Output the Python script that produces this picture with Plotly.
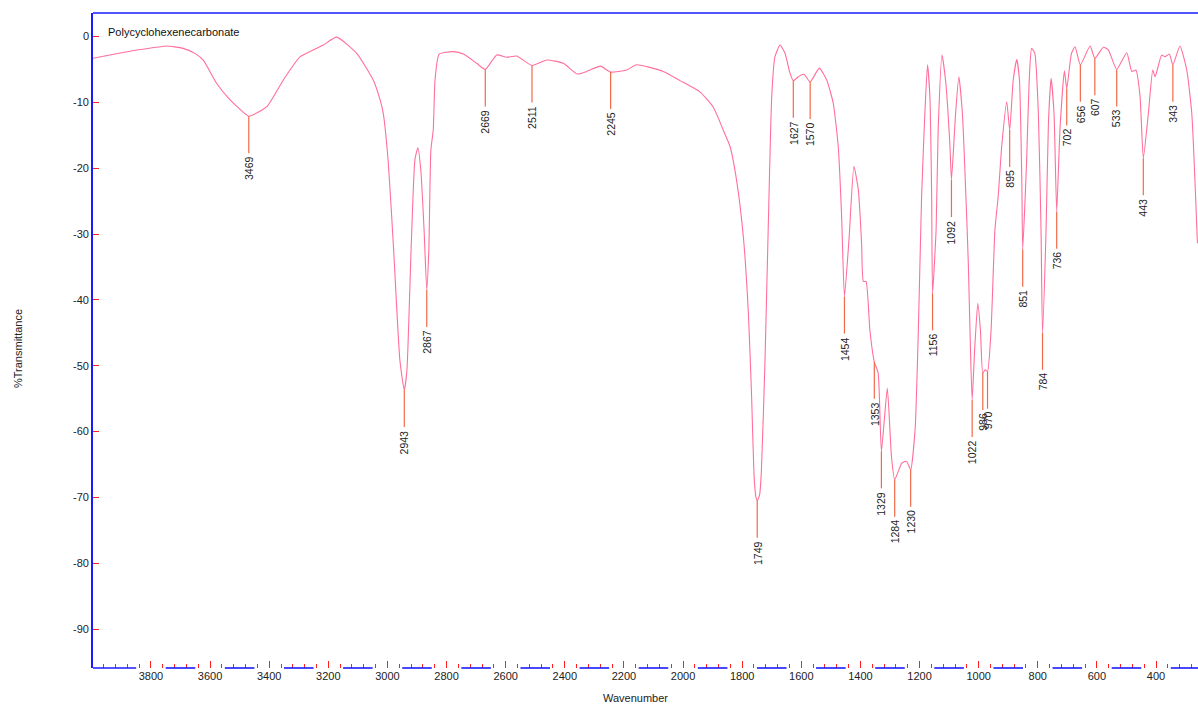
import plotly.graph_objects as go

# FT-IR spectrum of polycyclohexene carbonate
wavenumber = [
    3996, 3939, 3848, 3800, 3747, 3691, 3650, 3623, 3578, 3533, 3500, 3469,
    3409, 3352, 3296, 3217, 3172, 3104, 3048, 3025, 3014, 2997, 2979, 2958,
    2943, 2934, 2920, 2907, 2897, 2887, 2876, 2867, 2860, 2853, 2845, 2839,
    2825, 2777, 2743, 2698, 2669, 2630, 2597, 2563, 2511, 2461, 2405, 2358,
    2326, 2279, 2245, 2191, 2157, 2067, 2010, 1943, 1898, 1864, 1841, 1819,
    1796, 1779, 1768, 1760, 1754, 1749, 1741, 1735, 1723, 1712, 1700, 1689,
    1672, 1655,
    1638, 1627, 1610, 1591, 1570, 1539, 1514, 1492, 1475, 1464, 1454, 1438,
    1422, 1407, 1396, 1390, 1381, 1368, 1353, 1340, 1329, 1309, 1295, 1284,
    1260, 1244, 1230, 1215, 1204, 1193, 1182, 1173, 1165, 1159, 1156, 1144,
    1137, 1124, 1111, 1097, 1092, 1078, 1067, 1055, 1041, 1035, 1028, 1022,
    1013, 1003, 994, 986, 978, 970, 958, 945, 934, 922, 905, 895,
    883, 871, 862, 854, 851, 838, 829, 821, 810, 798, 789, 784,
    772, 764, 755, 745, 736, 725, 710, 702, 686, 674, 656, 623,
    607, 578, 561, 533, 499, 482, 468, 454, 443, 426, 411, 403,
    381, 370, 355, 343, 319, 296, 279, 260,
]
transmittance = [
    -3.3, -2.8, -2.05, -1.75, -1.44, -1.8, -2.6, -3.6, -7.1, -9.6, -11.0, -12.1,
    -10.7, -6.6, -3.1, -1.3, -0.1, -2.55, -6.6, -9.6, -11.7, -19.2, -32.4, -49.1,
    -53.7, -50.6, -32.4, -18.7, -16.9, -20.3, -29.4, -38.5, -32.4, -17.2, -14.2, -6.6,
    -2.66, -2.3, -2.66, -4.07, -5.0, -2.8, -3.16, -2.96, -4.4, -3.57, -4.07, -5.7,
    -5.3, -4.5, -5.4, -5.1, -4.3, -5.3, -6.7, -8.4, -10.7, -14.2, -16.7, -21.8,
    -30.4, -42.0, -54.7, -66.5, -69.8, -70.5, -69.6, -66.0, -49.6, -29.4, -9.1, -3.07,
    -1.3, -2.55,
    -5.6, -6.7, -6.1, -5.74, -6.9, -4.8, -6.6, -10.1, -16.7, -26.8, -39.5, -30.4,
    -19.7, -23.3, -31.4, -37.2, -37.2, -44.6, -49.4, -51.1, -63.0, -53.4, -63.8, -67.3,
    -64.8, -64.5, -65.8, -59.7, -44.6, -24.3, -11.7, -4.3, -9.1, -24.3, -39.0, -29.4,
    -14.2, -2.8, -7.1, -16.7, -21.8, -11.7, -6.1, -11.7, -26.8, -34.4, -47.0, -55.2,
    -47.1, -40.5, -44.6, -51.1, -50.6, -50.9, -44.6, -29.4, -24.3, -16.7, -9.9, -14.2,
    -6.6, -3.5, -6.6, -21.8, -32.4, -19.2, -6.6, -1.8, -2.55, -11.7, -29.4, -45.0,
    -29.4, -13.2, -6.35, -11.7, -26.6, -14.2, -5.2, -7.9, -2.55, -1.55, -4.3, -1.44,
    -3.3, -1.64, -2.05, -5.0, -2.46, -5.3, -5.1, -9.1, -18.5, -11.7, -5.1, -6.1,
    -2.8, -3.07, -2.66, -4.3, -1.44, -5.1, -11.7, -31.4,
]

# labelled absorption bands
peak_labels = [
    3469, 2943, 2867, 2669, 2511, 2245, 1749, 1627, 1570, 1454, 1353, 1329,
    1284, 1230, 1156, 1092, 1022, 986, 970, 895, 851, 784, 736, 702,
    656, 607, 533, 443, 343,
]

x_major_ticks = list(range(3800, 399, -200))
y_ticks = list(range(0, -91, -10))

SPECTRUM = "#ff6f9a"
PEAK_LINE = "#f06a48"
BLUE = "#1a1aff"
RED = "#ff2020"
FONT = "Liberation Sans, Arial, sans-serif"

fig = go.Figure()
fig.add_trace(go.Scatter(
    x=wavenumber, y=transmittance, mode="lines",
    line=dict(color=SPECTRUM, width=1.1, shape="spline", smoothing=0.5),
    hoverinfo="x+y", showlegend=False,
))

lookup = dict(zip(wavenumber, transmittance))
shapes = []
annotations = []
for wn in peak_labels:
    t = lookup[wn]
    shapes.append(dict(
        type="line", xref="x", yref="y", ysizemode="pixel", yanchor=t,
        x0=wn, x1=wn, y0=0, y1=-37, line=dict(color=PEAK_LINE, width=1.2),
    ))
    annotations.append(dict(
        x=wn, y=t, xref="x", yref="y", text=str(wn), showarrow=False,
        textangle=-90, yanchor="top", xanchor="center", yshift=-38,
        font=dict(family=FONT, size=10.5, color="#222222"),
    ))

# dashed-looking bottom axis: blue runs centred between the labelled ticks
for c in range(3900, 199, -200):
    left = 3996 if c == 3900 else c + 50
    right = max(c - 50, 258)
    shapes.append(dict(
        type="line", xref="x", yref="paper", x0=left, x1=right, y0=0, y1=0,
        line=dict(color=BLUE, width=1.6),
    ))
# top frame line
shapes.append(dict(
    type="line", xref="paper", yref="paper", x0=0, x1=1, y0=1, y1=1,
    line=dict(color=BLUE, width=1.6),
))

annotations += [
    dict(text="Polycyclohexenecarbonate", xref="paper", yref="paper",
         x=0.0118, y=0.971, xanchor="left", yanchor="middle", showarrow=False,
         font=dict(family=FONT, size=11, color="#111111")),
    dict(text="%Transmittance", xref="paper", yref="paper",
         x=-0.0679, y=0.4885, xanchor="center", yanchor="middle", showarrow=False,
         textangle=-90, font=dict(family=FONT, size=11, color="#222222")),
    dict(text="Wavenumber", xref="paper", yref="paper",
         x=0.4905, y=-0.0458, xanchor="center", yanchor="middle", showarrow=False,
         font=dict(family=FONT, size=11, color="#222222")),
]

fig.update_layout(
    width=1198, height=706,
    margin=dict(l=93, r=0, t=13, b=38),
    paper_bgcolor="white", plot_bgcolor="white",
    shapes=shapes, annotations=annotations,
    font=dict(family=FONT, size=11, color="#222222"),
    xaxis=dict(
        range=[3996, 258], showgrid=False, zeroline=False, showline=False,
        tickmode="array", tickvals=x_major_ticks,
        ticktext=[str(v) for v in x_major_ticks],
        ticks="inside", ticklen=7, tickwidth=1.3, tickcolor=RED,
        tickfont=dict(family=FONT, size=11, color="#222222"),
        minor=dict(dtick=40, tick0=0, ticks="inside", ticklen=4,
                   tickwidth=1.3, tickcolor=RED, showgrid=False),
    ),
    yaxis=dict(
        range=[-95.9, 3.57], showgrid=False, zeroline=False,
        showline=True, linecolor=BLUE, linewidth=1.6,
        tickmode="array", tickvals=y_ticks, ticktext=[str(v) for v in y_ticks],
        ticks="inside", ticklen=6, tickwidth=1.3, tickcolor=RED,
        tickfont=dict(family=FONT, size=11, color="#222222"),
    ),
)

fig.write_html("out.html")
